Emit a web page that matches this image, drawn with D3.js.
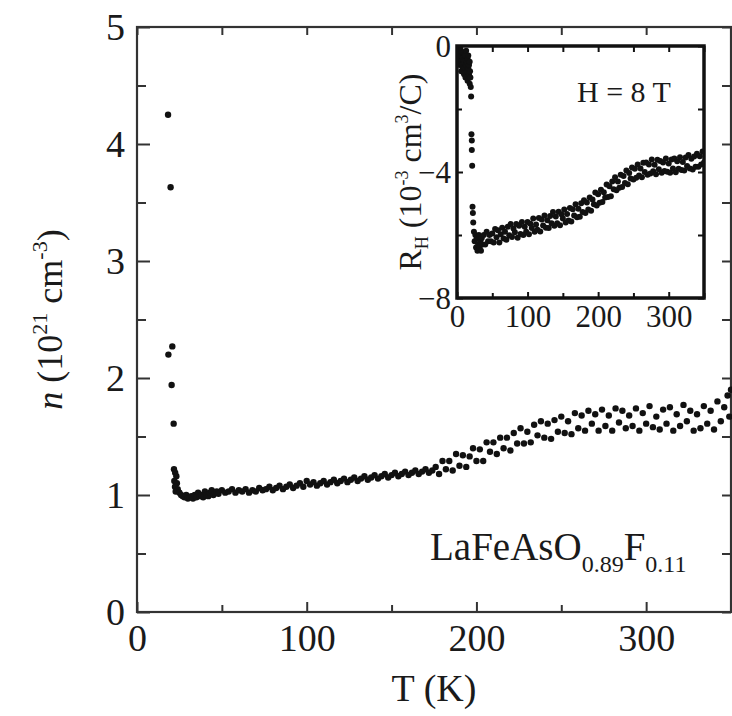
<!DOCTYPE html>
<html><head><meta charset="utf-8">
<script src="https://cdn.jsdelivr.net/npm/d3@7"></script>
<style>body{margin:0;background:#fff}svg text{font-family:"Liberation Serif","Times New Roman",serif;fill:#1a1a1a}</style>
</head><body>
<script>
// Main panel: carrier density n (10^21 cm^-3) vs T (K)
const mainT = [18.3,19.8,20.8,18.5,20.4,21.6,21.8,22.5,23.2,22,23.5,22.4,24,22.8,25,26,27,28,29,30,31,32,33,34,35,36,37,38,39,40,41,42,43,44,45,46,47,48,50,52,54,56,58,60,62,64,66,68,70,72,74,76,78,80,82,84,86,88,90,92,94,96,98,100,102,104,106,108,110,112,114,116,118,120,122,124,126,128,130,132,134,136,138,140,142,144,146,148,150,152,154,156,158,160,162,164,166,168,170,172,174,176,178,180,182,184,186,188,190,192,194,196,198,200,202,204,206,208,210,212,214,216,218,220,222,224,226,228,230,232,234,236,238,240,242,244,246,248,250,252,254,256,258,260,262,264,266,268,270,272,274,276,278,280,282,284,286,288,290,292,294,296,298,300,302,304,306,308,310,312,314,316,318,320,322,324,326,328,330,332,334,336,338,340,342,344,346,348,349,350];
const mainN = [4.25,3.63,2.27,2.2,1.94,1.61,1.22,1.19,1.16,1.12,1.1,1.07,1.05,1.03,1.02,1.0,0.99,0.98,1.0,0.97,0.98,0.99,0.97,1.0,0.98,1.02,0.99,1.0,0.98,1.03,1.0,0.99,1.02,1.04,1.0,1.02,1.03,1.01,1.04,1.02,1.03,1.05,1.02,1.04,1.03,1.05,1.02,1.04,1.03,1.06,1.04,1.05,1.07,1.04,1.06,1.08,1.05,1.07,1.09,1.06,1.08,1.1,1.07,1.12,1.09,1.11,1.08,1.1,1.12,1.09,1.11,1.13,1.1,1.12,1.14,1.11,1.13,1.15,1.12,1.14,1.16,1.13,1.15,1.17,1.14,1.16,1.18,1.15,1.17,1.19,1.16,1.18,1.2,1.17,1.19,1.21,1.18,1.2,1.22,1.19,1.21,1.24,1.18,1.29,1.22,1.29,1.21,1.35,1.25,1.34,1.24,1.33,1.4,1.29,1.39,1.29,1.45,1.37,1.45,1.35,1.49,1.4,1.49,1.38,1.53,1.44,1.57,1.44,1.54,1.45,1.6,1.51,1.63,1.49,1.61,1.48,1.64,1.54,1.67,1.53,1.63,1.52,1.7,1.57,1.68,1.55,1.72,1.61,1.69,1.55,1.73,1.59,1.68,1.55,1.74,1.62,1.72,1.57,1.68,1.59,1.74,1.55,1.7,1.61,1.76,1.58,1.67,1.56,1.73,1.61,1.75,1.55,1.69,1.59,1.77,1.63,1.72,1.55,1.69,1.57,1.76,1.61,1.72,1.56,1.8,1.63,1.75,1.85,1.67,1.9];

// Inset: Hall coefficient R_H (10^-3 cm^3/C) vs T (K), H = 8 T
const insetT = [1,2,2,3,3,4,4,5,5,6,6,7,7,8,8,9,9,10,10,11,11,12,12,13,13,14,14,15,15,16,16,17,17,18,18,18.5,19,19.5,20,20.5,21,21,21.5,22,22.5,23,24,25,26,27,28,29,30,31,32,33,34,35,36,38,40,42,44,46,48,50,52,54,56,58,60,62,64,66,68,70,72,74,76,78,80,82,84,86,88,90,92,94,96,98,100,102,104,106,108,110,112,114,116,118,120,122,124,126,128,130,132,134,136,138,140,142,144,146,148,150,152,154,156,158,160,162,164,166,168,170,172,174,176,178,180,182,184,186,188,190,192,194,196,198,200,202,204,206,208,210,212,214,216,218,220,222,224,226,228,230,232,234,236,238,240,242,244,246,248,250,252,254,256,258,260,262,264,266,268,270,272,274,276,278,280,282,284,286,288,290,292,294,296,298,300,302,304,306,308,310,312,314,316,318,320,322,324,326,328,330,332,334,336,338,340,342,344,346,348,350];
const insetR = [-0.05,-0.1,-0.4,-0.3,-0.15,-0.2,-0.6,-0.5,-0.1,-0.3,-0.8,-0.6,-0.2,-0.4,-0.7,-0.2,-0.45,-0.5,-0.9,-0.7,-0.25,-0.3,-1.0,-0.6,-0.15,-0.8,-0.5,-0.4,-1.1,-0.7,-0.3,-0.9,-0.6,-0.5,-1.2,-0.8,-1.0,-1.3,-1.6,-2.8,-3.0,-3.3,-3.8,-5.1,-5.3,-5.6,-5.9,-6.2,-6.0,-6.4,-6.1,-6.5,-6.3,-6.0,-6.4,-6.2,-6.5,-6.1,-6.3,-6.0,-6.3,-5.9,-6.2,-6.0,-6.2,-5.95,-6.24,-5.81,-6.07,-5.85,-6.24,-5.98,-5.77,-6.11,-5.9,-6.15,-5.74,-6.01,-5.65,-6.06,-5.79,-5.91,-5.65,-6.09,-5.71,-5.97,-5.59,-6.0,-5.74,-5.9,-5.59,-5.98,-5.64,-5.78,-5.48,-5.9,-5.67,-5.83,-5.46,-5.89,-5.51,-5.7,-5.38,-5.77,-5.53,-5.78,-5.4,-5.63,-5.27,-5.71,-5.41,-5.63,-5.26,-5.69,-5.34,-5.48,-5.19,-5.6,-5.33,-5.54,-5.14,-5.57,-5.18,-5.38,-5.02,-5.44,-5.17,-5.42,-4.99,-5.27,-4.9,-5.3,-4.97,-5.19,-4.81,-5.23,-4.87,-5.02,-4.65,-5.06,-4.71,-4.98,-4.56,-4.95,-4.64,-4.81,-4.4,-4.79,-4.45,-4.77,-4.3,-4.55,-4.17,-4.58,-4.3,-4.5,-4.09,-4.48,-4.13,-4.35,-3.95,-4.39,-4.03,-4.21,-3.86,-4.24,-3.9,-4.18,-3.76,-4.11,-3.89,-4.17,-3.71,-4.0,-3.7,-4.09,-3.76,-4.05,-3.6,-3.98,-3.77,-4.07,-3.61,-3.91,-3.65,-4.02,-3.7,-3.97,-3.57,-3.99,-3.73,-4.02,-3.6,-3.89,-3.57,-4.01,-3.66,-3.9,-3.53,-3.94,-3.68,-3.95,-3.54,-3.81,-3.46,-3.89,-3.58,-3.92,-3.51,-3.83,-3.42,-3.83,-3.5,-3.76,-3.35,-3.7];

const mainXTicks = [0,100,200,300];
const mainXMinor = [50,150,250,350];
const mainYTicks = [0,1,2,3,4,5];
const mainYMinor = [0.5,1.5,2.5,3.5,4.5];
const insetXTicks = [0,100,200,300];
const insetXMinor = [50,150,250,350];
const insetYTicks = [0,-4,-8];
const insetYMinor = [-2,-6];

const W = 732, H = 716;
const svg = d3.select("body").append("svg").attr("width", W).attr("height", H);

// ---- main panel ----
const x = d3.scaleLinear().domain([0,350]).range([137,731]);
const y = d3.scaleLinear().domain([0,5]).range([612,27]);
const axisCol = "#333";

function styleAxis(g){ g.select(".domain").remove(); g.selectAll("line").attr("stroke",axisCol).attr("stroke-width",2); }

svg.append("g").attr("transform",`translate(0,${y(0)})`)
  .call(d3.axisBottom(x).tickValues(mainXTicks).tickSize(-10).tickPadding(12).tickFormat(d3.format("d")))
  .call(styleAxis).call(g=>g.selectAll("text").attr("font-size",38).attr("dy","0.72em").style("font-family","Liberation Serif"));
svg.append("g").attr("transform",`translate(0,${y(0)})`)
  .call(d3.axisBottom(x).tickValues(mainXMinor).tickSize(-7).tickFormat(""))
  .call(styleAxis);
svg.append("g").attr("transform",`translate(0,${y(5)})`)
  .call(d3.axisTop(x).tickValues(mainXTicks.concat(mainXMinor)).tickSize(-8).tickFormat(""))
  .call(styleAxis);
svg.append("g").attr("transform",`translate(${x(0)},0)`)
  .call(d3.axisLeft(y).tickValues(mainYTicks).tickSize(-13).tickPadding(12).tickFormat(d3.format("d")))
  .call(styleAxis).call(g=>g.selectAll("text").attr("font-size",38).attr("dy","0.34em").style("font-family","Liberation Serif"));
svg.append("g").attr("transform",`translate(${x(0)},0)`)
  .call(d3.axisLeft(y).tickValues(mainYMinor).tickSize(-9).tickFormat(""))
  .call(styleAxis);
svg.append("g").attr("transform",`translate(${x(350)},0)`)
  .call(d3.axisRight(y).tickValues(mainYTicks.concat(mainYMinor)).tickSize(-9).tickFormat(""))
  .call(styleAxis);

svg.append("rect").attr("x",x(0)).attr("y",y(5)).attr("width",x(350)-x(0)).attr("height",y(0)-y(5))
  .attr("fill","none").attr("stroke",axisCol).attr("stroke-width",2.2);

const mainData = mainT.map((t,i)=>({t, n: mainN[i]}));
svg.append("g").selectAll("circle").data(mainData).join("circle")
  .attr("cx",d=>x(d.t)).attr("cy",d=>y(d.n)).attr("r",3.2).attr("fill","#111");

// axis titles
svg.append("text").attr("x",(x(0)+x(350))/2).attr("y",701).attr("text-anchor","middle")
  .attr("font-size",38).text("T (K)");
const yl = svg.append("text").attr("transform",`translate(62,${(y(0)+y(5))/2}) rotate(-90)`)
  .attr("text-anchor","middle").attr("font-size",36);
yl.append("tspan").attr("font-style","italic").text("n");
yl.append("tspan").text(" (10");
yl.append("tspan").attr("font-size",22).attr("dy",-15).text("21");
yl.append("tspan").attr("dy",15).text(" cm");
yl.append("tspan").attr("font-size",22).attr("dy",-15).text("-3");
yl.append("tspan").attr("dy",15).text(")");

// compound label
const cl = svg.append("text").attr("x",430).attr("y",560).attr("font-size",39);
cl.append("tspan").text("LaFeAsO");
cl.append("tspan").attr("font-size",24).attr("dy",12).text("0.89");
cl.append("tspan").attr("dy",-12).text("F");
cl.append("tspan").attr("font-size",24).attr("dy",12).text("0.11");

// ---- inset ----
const ix = d3.scaleLinear().domain([0,350]).range([457,704]);
const iy = d3.scaleLinear().domain([-8,0]).range([298,46]);
svg.append("rect").attr("x",ix(0)).attr("y",iy(0)).attr("width",ix(350)-ix(0)).attr("height",iy(-8)-iy(0))
  .attr("fill","#fff");

function styleIn(g){ g.select(".domain").remove(); g.selectAll("line").attr("stroke","#111").attr("stroke-width",2); }
svg.append("g").attr("transform",`translate(0,${iy(-8)})`)
  .call(d3.axisBottom(ix).tickValues(insetXTicks).tickSize(-6).tickPadding(7).tickFormat(d3.format("d")))
  .call(styleIn).call(g=>g.selectAll("text").attr("font-size",31).attr("dy","0.72em").style("font-family","Liberation Serif"));
svg.append("g").attr("transform",`translate(0,${iy(-8)})`)
  .call(d3.axisBottom(ix).tickValues(insetXMinor).tickSize(-5).tickFormat("")).call(styleIn);
svg.append("g").attr("transform",`translate(0,${iy(0)})`)
  .call(d3.axisTop(ix).tickValues(insetXTicks.concat(insetXMinor)).tickSize(-6).tickFormat("")).call(styleIn);
svg.append("g").attr("transform",`translate(${ix(0)},0)`)
  .call(d3.axisLeft(iy).tickValues(insetYTicks).tickSize(-6).tickPadding(6).tickFormat(d3.format("d")))
  .call(styleIn).call(g=>g.selectAll("text").attr("font-size",31).attr("dy","0.34em").style("font-family","Liberation Serif"));
svg.append("g").attr("transform",`translate(${ix(0)},0)`)
  .call(d3.axisLeft(iy).tickValues(insetYMinor).tickSize(-5).tickFormat("")).call(styleIn);
svg.append("g").attr("transform",`translate(${ix(350)},0)`)
  .call(d3.axisRight(iy).tickValues(insetYTicks.concat(insetYMinor)).tickSize(-6).tickFormat("")).call(styleIn);

svg.append("clipPath").attr("id","ic").append("rect")
  .attr("x",ix(0)).attr("y",iy(0)).attr("width",ix(350)-ix(0)).attr("height",iy(-8)-iy(0));
const insetData = insetT.map((t,i)=>({t, r: insetR[i]}));
svg.append("g").attr("clip-path","url(#ic)").selectAll("circle").data(insetData).join("circle")
  .attr("cx",d=>ix(d.t)).attr("cy",d=>iy(d.r)).attr("r",3).attr("fill","#111");

svg.append("rect").attr("x",ix(0)).attr("y",iy(0)).attr("width",ix(350)-ix(0)).attr("height",iy(-8)-iy(0))
  .attr("fill","none").attr("stroke","#111").attr("stroke-width",3.5);

svg.append("text").attr("x",577).attr("y",102).attr("font-size",30).text("H = 8 T");

const il = svg.append("text").attr("transform",`translate(421,${(iy(0)+iy(-8))/2}) rotate(-90)`)
  .attr("text-anchor","middle").attr("font-size",32);
il.append("tspan").text("R");
il.append("tspan").attr("font-size",18).attr("dy",7).text("H");
il.append("tspan").attr("dy",-7).text(" (10");
il.append("tspan").attr("font-size",18).attr("dy",-13).text("-3");
il.append("tspan").attr("dy",13).text(" cm");
il.append("tspan").attr("font-size",18).attr("dy",-13).text("3");
il.append("tspan").attr("dy",13).text("/C)");
</script>
</body></html>
